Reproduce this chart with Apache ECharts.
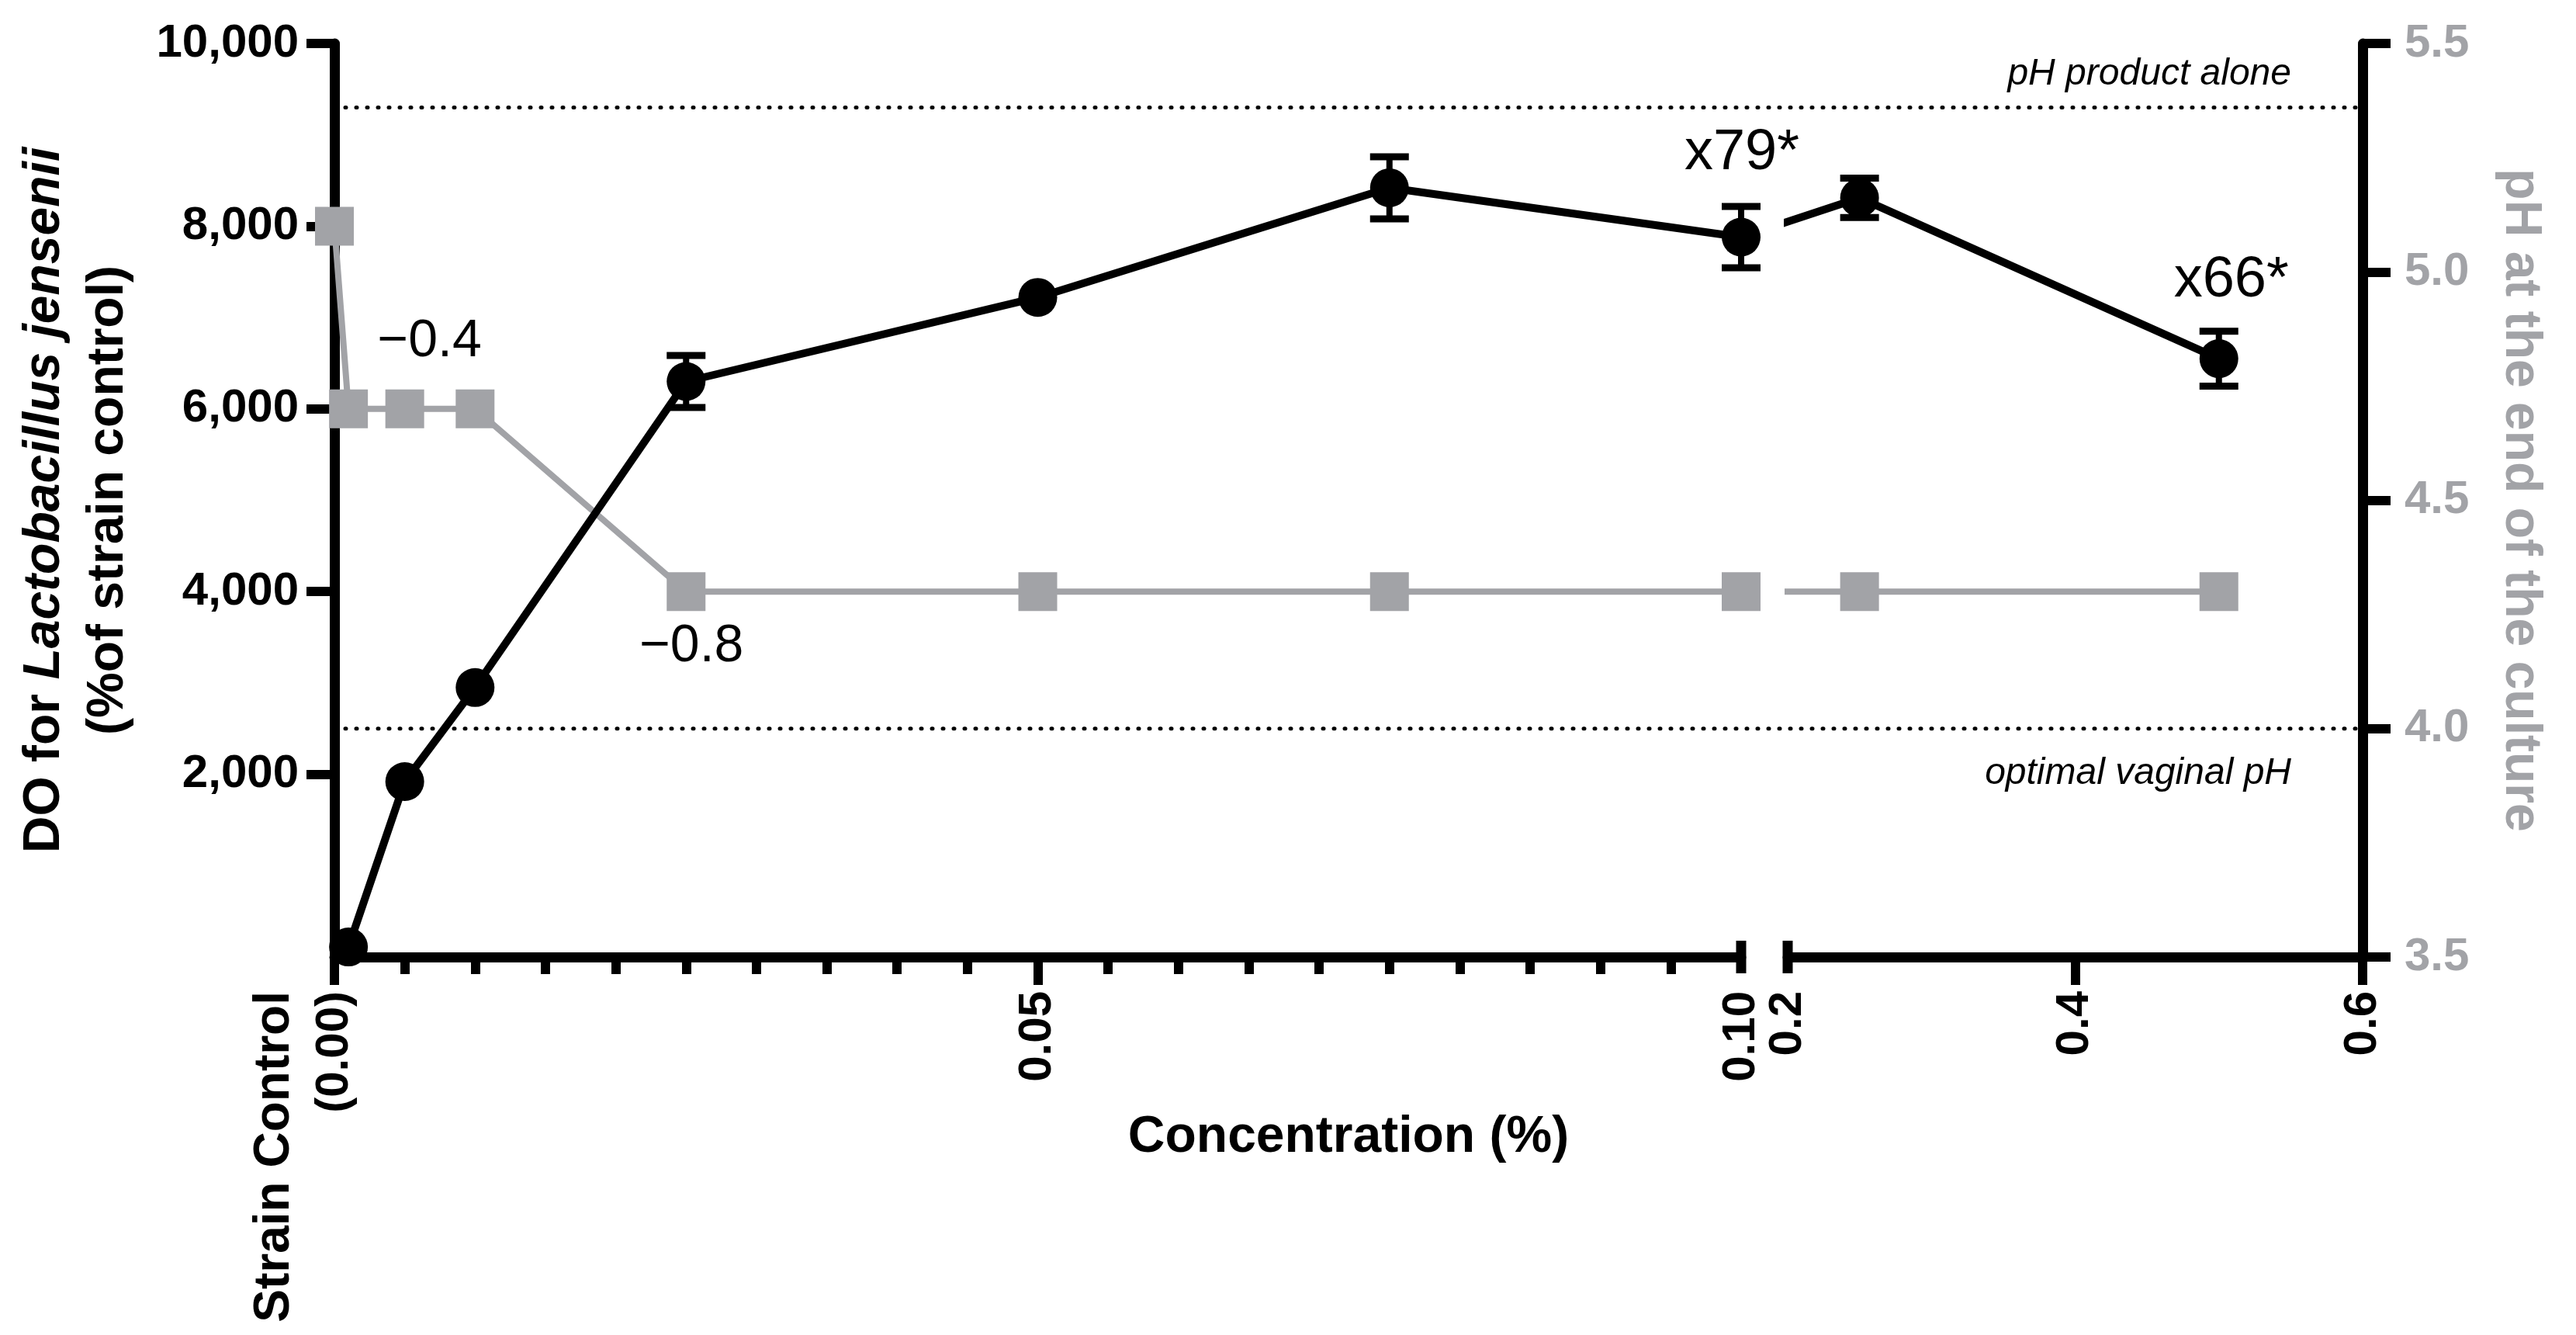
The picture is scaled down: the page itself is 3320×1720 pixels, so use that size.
<!DOCTYPE html>
<html><head><meta charset="utf-8">
<script src="https://cdn.jsdelivr.net/npm/echarts@6/dist/echarts.min.js"></script>
<style>html,body{margin:0;padding:0;background:#fff}#c{width:3320px;height:1720px}</style>
</head><body><div id="c"></div>
<script>
// ---------- data ----------
const doConc   = [0.001, 0.005, 0.01, 0.025, 0.05, 0.075, 0.1, 0.25, 0.5];
const doValues = [110, 1920, 2950, 6300, 7220, 8420, 7880, 8310, 6550];
const doErrors = [0, 0, 0, 285, 0, 340, 335, 215, 300];
const phConc   = [0, 0.001, 0.005, 0.01, 0.025, 0.05, 0.075, 0.1, 0.25, 0.5];
const phValues = [5.1, 4.7, 4.7, 4.7, 4.3, 4.3, 4.3, 4.3, 4.3, 4.3];
const refLineValues = [5.36, 4.0];
const refLineLabels = ['pH product alone', 'optimal vaginal pH'];
const leftTickLabels  = [2000, 4000, 6000, 8000, 10000];
const rightTickLabels = [3.5, 4.0, 4.5, 5.0, 5.5];
const xLeftLabels  = [0, 0.05, 0.1];
const xRightLabels = [0.2, 0.4, 0.6];
const annotTexts  = ['\u22120.4', '\u22120.8', 'x79*', 'x66*'];
const annotSeries = ['ph', 'ph', 'do', 'do'];
const annotConc   = [0.005, 0.025, 0.1, 0.5];

// ---------- layout ----------
const FONT = "'Liberation Sans', Arial, Helvetica, sans-serif";
const GRAY = '#a2a3a7';
const L0 = 431, L1 = 2244, R0 = 2304, R1 = 3045, TOP = 56, BOT = 1233;
const LMIN = 0, LMAX = 0.1, RMIN = 0.2, RMAX = 0.6;

// map a concentration into right-segment axis units (so a segment crossing the break keeps its pixel slope)
function toRight(x) {
  if (x >= RMIN) return x;
  const px = L0 + (x - LMIN) / (LMAX - LMIN) * (L1 - L0);
  return RMIN - (R0 - px) / ((R1 - R0) / (RMAX - RMIN));
}

const doPairs = doConc.map((x, i) => [x, doValues[i]]);
const phPairs = phConc.map((x, i) => [x, phValues[i]]);
const errLeft = doConc.map((x, i) => [x, doValues[i], doErrors[i]]).filter(d => d[0] <= LMAX && d[2] > 0);
const errRight = doConc.map((x, i) => [x, doValues[i], doErrors[i]]).filter(d => d[0] >= RMIN && d[2] > 0);

function errRender(params, api) {
  const x = api.value(0), v = api.value(1), e = api.value(2);
  const t = api.coord([x, v + e]), b = api.coord([x, v - e]);
  const hw = 25;
  const st = (w) => ({ stroke: '#000', lineWidth: w });
  return { type: 'group', children: [
    { type: 'line', shape: { x1: t[0], y1: t[1], x2: b[0], y2: b[1] }, style: st(8) },
    { type: 'line', shape: { x1: t[0] - hw, y1: t[1], x2: t[0] + hw, y2: t[1] }, style: st(9) },
    { type: 'line', shape: { x1: b[0] - hw, y1: b[1], x2: b[0] + hw, y2: b[1] }, style: st(9) }
  ]};
}

const axisLineStyle = { color: '#000', width: 13 };
const tickStyle = { color: '#000', width: 12 };
const labelRich = {
  v: { fontFamily: FONT, fontSize: 60, fontWeight: 'bold', color: '#000', lineHeight: 77 },
  sc: { fontFamily: FONT, fontSize: 64, fontWeight: 'bold', color: '#000', lineHeight: 77 }
};

const chart = echarts.init(document.getElementById('c'), null, { renderer: 'canvas' });
const option = {
  backgroundColor: '#fff',
  animation: false,
  grid: [
    { left: L0, top: TOP, width: L1 - L0, height: BOT - TOP },
    { left: R0, top: TOP, width: R1 - R0, height: BOT - TOP },
    { left: L0, top: TOP, width: R1 - L0, height: BOT - TOP }
  ],
  xAxis: [
    { gridIndex: 0, type: 'value', min: LMIN, max: LMAX, interval: 0.05,
      axisLine: { onZero: false, lineStyle: axisLineStyle },
      axisTick: { customValues: [0, 0.05], length: 36, lineStyle: tickStyle },
      minorTick: { show: true, splitNumber: 10, length: 22, lineStyle: tickStyle },
      splitLine: { show: false }, minorSplitLine: { show: false },
      axisLabel: { customValues: xLeftLabels, rotate: 90, margin: 44, rich: labelRich,
        formatter: v => v === 0 ? '{sc|Strain Control}\n{v|(0.00)}\n{v| }' : '{v|' + v.toFixed(2) + '}' } },
    { gridIndex: 1, type: 'value', min: RMIN, max: RMAX, interval: 0.2,
      axisLine: { onZero: false, lineStyle: axisLineStyle },
      axisTick: { customValues: [0.4, 0.6], length: 36, lineStyle: tickStyle },
      splitLine: { show: false },
      axisLabel: { customValues: xRightLabels, rotate: 90, margin: 44, rich: labelRich,
        formatter: v => '{v|' + v.toFixed(1) + '}' } },
    { gridIndex: 2, type: 'value', min: 0, max: 1,
      axisLine: { show: false }, axisTick: { show: false }, axisLabel: { show: false }, splitLine: { show: false },
      name: 'Concentration (%)', nameLocation: 'middle', nameGap: 200,
      nameTextStyle: { fontFamily: FONT, fontSize: 66, fontWeight: 'bold', color: '#000' } }
  ],
  yAxis: [
    { gridIndex: 0, type: 'value', position: 'left', min: 0, max: 10000, interval: 2000,
      axisLine: { show: true, onZero: false, lineStyle: axisLineStyle },
      axisTick: { show: true, customValues: leftTickLabels, length: 36, lineStyle: tickStyle },
      splitLine: { show: false },
      axisLabel: { customValues: leftTickLabels, margin: 46, fontFamily: FONT, fontSize: 60, fontWeight: 'bold', color: '#000',
        formatter: v => v.toLocaleString('en-US') },
      name: '{b|DO for }{bi|Lactobacillus jensenii}\n{b|(%of strain control)}',
      nameLocation: 'middle', nameRotate: 90, nameGap: 250,
      nameTextStyle: { rich: {
        b: { fontFamily: FONT, fontSize: 66, fontWeight: 'bold', color: '#000', lineHeight: 82 },
        bi: { fontFamily: FONT, fontSize: 66, fontWeight: 'bold', fontStyle: 'italic', color: '#000', lineHeight: 82 } } } },
    { gridIndex: 0, type: 'value', min: 3.5, max: 5.5, show: false },
    { gridIndex: 1, type: 'value', min: 0, max: 10000, show: false },
    { gridIndex: 1, type: 'value', position: 'right', min: 3.5, max: 5.5, interval: 0.5,
      axisLine: { show: true, onZero: false, lineStyle: axisLineStyle },
      axisTick: { show: true, length: 36, lineStyle: tickStyle },
      splitLine: { show: false },
      axisLabel: { margin: 54, fontFamily: FONT, fontSize: 60, fontWeight: 'bold', color: GRAY,
        formatter: v => v.toFixed(1) },
      name: 'pH at the end of the culture', nameLocation: 'middle', nameRotate: -90, nameGap: 170,
      nameTextStyle: { fontFamily: FONT, fontSize: 66, fontWeight: 'bold', color: GRAY } },
    { gridIndex: 2, type: 'value', min: 3.5, max: 5.5, show: false }
  ],
  series: [
    // reference lines (dotted)
    ...refLineValues.map((v, i) => ({
      name: refLineLabels[i], type: 'line', xAxisIndex: 2, yAxisIndex: 4, silent: true,
      data: [[0, v], [1, v]], symbol: 'none', z: 1,
      lineStyle: { color: '#000', width: 5, type: [1, 13], cap: 'round' }
    })),
    // pH (gray squares)
    { name: 'pH L', type: 'line', xAxisIndex: 0, yAxisIndex: 1, data: phPairs, clip: true, z: 2,
      symbol: 'rect', symbolSize: 50, itemStyle: { color: GRAY }, lineStyle: { color: GRAY, width: 8 } },
    { name: 'pH R', type: 'line', xAxisIndex: 1, yAxisIndex: 3, data: phPairs.map(p => [toRight(p[0]), p[1]]), clip: true, z: 2,
      symbol: 'rect', symbolSize: 50, itemStyle: { color: GRAY }, lineStyle: { color: GRAY, width: 8 } },
    // DO (black circles)
    { name: 'DO L', type: 'line', xAxisIndex: 0, yAxisIndex: 0, data: doPairs, clip: true, z: 4,
      symbol: 'circle', symbolSize: 50, itemStyle: { color: '#000' }, lineStyle: { color: '#000', width: 10 } },
    { name: 'DO R', type: 'line', xAxisIndex: 1, yAxisIndex: 2, data: doPairs.map(p => [toRight(p[0]), p[1]]), clip: true, z: 4,
      symbol: 'circle', symbolSize: 50, itemStyle: { color: '#000' }, lineStyle: { color: '#000', width: 10 } },
    // error bars
    { name: 'err L', type: 'custom', xAxisIndex: 0, yAxisIndex: 0, data: errLeft, renderItem: errRender, z: 4, clip: false, encode: { x: 0, y: 1 } },
    { name: 'err R', type: 'custom', xAxisIndex: 1, yAxisIndex: 2, data: errRight, renderItem: errRender, z: 4, clip: false, encode: { x: 0, y: 1 } }
  ]
};
chart.setOption(option);

// ---------- annotations positioned through the chart's scales ----------
const g = [];
const annotOffsets = [[32, -87], [7, 71], [1, -108], [16, -100]];
const annotSizes = [68, 68, 74, 74];
annotTexts.forEach((t, i) => {
  const x = annotConc[i];
  let p;
  if (annotSeries[i] === 'ph') {
    const v = phValues[phConc.indexOf(x)];
    p = x <= LMAX ? chart.convertToPixel({ xAxisIndex: 0, yAxisIndex: 1 }, [x, v]) : chart.convertToPixel({ xAxisIndex: 1, yAxisIndex: 3 }, [x, v]);
  } else {
    const v = doValues[doConc.indexOf(x)];
    p = x <= LMAX ? chart.convertToPixel({ xAxisIndex: 0, yAxisIndex: 0 }, [x, v]) : chart.convertToPixel({ xAxisIndex: 1, yAxisIndex: 2 }, [x, v]);
  }
  g.push({ type: 'text', x: p[0] + annotOffsets[i][0], y: p[1] + annotOffsets[i][1], z: 10,
    style: { text: t, fill: '#000', fontFamily: FONT, fontSize: annotSizes[i], align: 'center', verticalAlign: 'middle' } });
});
// reference-line captions
const refOffsets = [-43, 58];
refLineValues.forEach((v, i) => {
  const p = chart.convertToPixel({ xAxisIndex: 2, yAxisIndex: 4 }, [1, v]);
  g.push({ type: 'text', x: p[0] - 92, y: p[1] + refOffsets[i], z: 10,
    style: { text: refLineLabels[i], fill: '#000', fontFamily: FONT, fontSize: 48, fontStyle: 'italic', align: 'right', verticalAlign: 'middle' } });
});
// axis-break caps at the segment ends
[[0, LMAX], [1, RMIN]].forEach(([gi, x]) => {
  const p = chart.convertToPixel({ xAxisIndex: gi, yAxisIndex: gi === 0 ? 0 : 2 }, [x, 0]);
  g.push({ type: 'line', z: 10, shape: { x1: p[0], y1: p[1] - 21, x2: p[0], y2: p[1] + 21 }, style: { stroke: '#000', lineWidth: 13 } });
});
chart.setOption({ graphic: g });
</script>
</body></html>
